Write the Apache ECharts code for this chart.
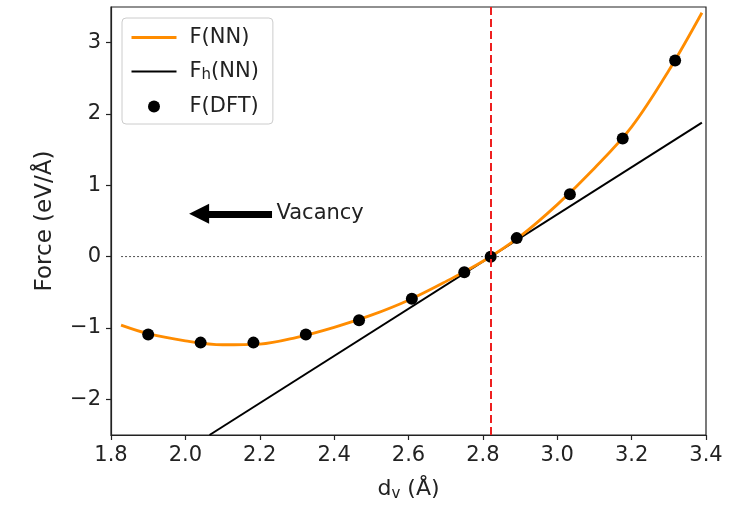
<!DOCTYPE html>
<html>
<head>
<meta charset="utf-8">
<script src="https://cdn.jsdelivr.net/npm/echarts@6/dist/echarts.min.js"></script>
<style>
  html, body { margin: 0; padding: 0; background: #fff; }
  #chart { width: 730px; height: 507px; }
</style>
</head>
<body>
<div id="chart"></div>
<script>
// DFT reference forces (eV/Å) against vacancy distance d_v (Å)
const dftX = [1.900, 2.041, 2.183, 2.324, 2.467, 2.609, 2.750, 2.821, 2.891, 3.034, 3.176, 3.317];
const dftY = [-1.09, -1.205, -1.205, -1.09, -0.89, -0.59, -0.22, 0.0, 0.26, 0.876, 1.657, 2.75];

// Neural-network force curve
const nnX = [1.827, 1.9, 2.0, 2.1, 2.2, 2.3, 2.4, 2.5, 2.6, 2.7, 2.8, 2.9, 3.0, 3.1, 3.2, 3.3, 3.389];
const nnY = [-0.96, -1.08, -1.18, -1.235, -1.225, -1.13, -0.99, -0.82, -0.61, -0.35, -0.065, 0.285, 0.73, 1.24, 1.82, 2.61, 3.42];

// Harmonic (linear) force about the equilibrium distance
const fhX = [2.065, 3.389];
const fhY = [-2.5, 1.88];

// Equilibrium distance and the zero-force reference span
const eqX = 2.821;
const zeroX = [1.827, 3.389];

// Axis ticks
const xTicks = [1.8, 2.0, 2.2, 2.4, 2.6, 2.8, 3.0, 3.2, 3.4];
const yTicks = [-2, -1, 0, 1, 2, 3];

const FONT = 'DejaVu Sans';
const pairs = (xs, ys) => xs.map((x, i) => [x, ys[i]]);

const chart = echarts.init(document.getElementById('chart'), null, { renderer: 'canvas' });

const option = {
  animation: false,
  backgroundColor: '#ffffff',
  textStyle: { fontFamily: FONT },
  grid: {
    left: 111, right: 24, top: 7, bottom: 71,
    show: true, borderColor: '#222', borderWidth: 1.2, backgroundColor: 'transparent'
  },
  legend: {
    orient: 'vertical',
    left: 122, top: 18,
    padding: [9, 14, 7, 8],
    itemGap: 13,
    itemWidth: 45, itemHeight: 12,
    backgroundColor: '#ffffff',
    borderColor: '#cccccc', borderWidth: 1, borderRadius: 4,
    data: [
      { name: 'F(NN)', itemStyle: { opacity: 0 }, lineStyle: { width: 3 } },
      { name: 'Fh(NN)', itemStyle: { opacity: 0 }, lineStyle: { width: 2 } },
      { name: 'F(DFT)' }
    ],
    textStyle: {
      fontFamily: FONT, fontSize: 21, color: '#222', padding: [0, 0, 0, 8],
      rich: {
        a: { fontFamily: FONT, fontSize: 21, color: '#222' },
        s: { fontFamily: FONT, fontSize: 15, color: '#222', verticalAlign: 'bottom', padding: [8, 0, 0, 0] }
      }
    },
    formatter: function (name) {
      if (name === 'Fh(NN)') return '{a|F}{s|h}{a|(NN)}';
      return '{a|' + name + '}';
    }
  },
  xAxis: {
    type: 'value',
    min: 1.8, max: 3.4, interval: 0.2,
    name: '{a|d}{s|v}{a| (Å)}',
    nameLocation: 'middle', nameGap: 42,
    nameTextStyle: {
      rich: {
        a: { fontFamily: FONT, fontSize: 22, color: '#222' },
        s: { fontFamily: FONT, fontSize: 15, color: '#222', verticalAlign: 'bottom', padding: [10, 0, 0, 0] }
      }
    },
    axisLine: { show: true, onZero: false, lineStyle: { color: '#222', width: 1.2 } },
    axisTick: { show: true, length: 5, lineStyle: { color: '#222', width: 1.2 } },
    axisLabel: {
      fontFamily: FONT, fontSize: 21, color: '#222', margin: 10,
      formatter: v => xTicks.find(t => Math.abs(t - v) < 1e-6).toFixed(1)
    },
    splitLine: { show: false }
  },
  yAxis: {
    type: 'value',
    min: -2.5, max: 3.5,
    name: 'Force (eV/Å)',
    nameLocation: 'middle', nameGap: 54,
    nameTextStyle: { fontFamily: FONT, fontSize: 23, color: '#222' },
    axisLine: { show: true, onZero: false, lineStyle: { color: '#222', width: 1.2 } },
    axisTick: {
      show: true, length: 5, lineStyle: { color: '#222', width: 1.2 },
      customValues: yTicks
    },
    axisLabel: {
      fontFamily: FONT, fontSize: 21, color: '#222', margin: 10,
      customValues: yTicks,
      formatter: v => (v < 0 ? '\u2212' + Math.abs(v) : String(v))
    },
    splitLine: { show: false }
  },
  series: [
    {
      name: 'Zero',
      type: 'line',
      data: pairs(zeroX, [0, 0]),
      symbol: 'none',
      silent: true,
      lineStyle: { color: '#222', width: 0.8, type: [2, 2] },
      z: 1
    },
    {
      name: 'F(NN)',
      type: 'line',
      data: pairs(nnX, nnY),
      smooth: 0.35,
      symbol: 'none',
      lineStyle: { color: '#ff8c00', width: 2.8 },
      itemStyle: { color: '#ff8c00' },
      z: 3
    },
    {
      name: 'Fh(NN)',
      type: 'line',
      data: pairs(fhX, fhY),
      symbol: 'none',
      lineStyle: { color: '#000', width: 2 },
      itemStyle: { color: '#000' },
      z: 2,
      markLine: {
        silent: true,
        symbol: ['none', 'triangle'],
        symbolSize: [20, 20],
        label: { show: false },
        lineStyle: { color: '#000', width: 7, type: 'solid' },
        data: [[{ coord: [2.233, 0.60] }, { coord: [2.037, 0.60] }]]
      }
    },
    {
      name: 'F(DFT)',
      type: 'scatter',
      data: pairs(dftX, dftY),
      symbol: 'circle',
      symbolSize: 12,
      itemStyle: { color: '#000', opacity: 1 },
      z: 4
    },
    {
      name: 'Equilibrium',
      type: 'line',
      data: [],
      silent: true,
      markLine: {
        silent: true,
        symbol: ['none', 'none'],
        label: { show: false },
        lineStyle: { color: '#ee2020', width: 2, type: [8, 4] },
        data: [{ xAxis: eqX }]
      }
    }
  ]
};

chart.setOption(option);

// "Vacancy" annotation beside the arrow
const p = chart.convertToPixel({ gridIndex: 0 }, [2.245, 0.60]);
chart.setOption({
  graphic: [{
    type: 'text',
    x: p[0], y: p[1],
    style: {
      text: 'Vacancy',
      fontFamily: FONT, fontSize: 21, fill: '#222',
      textAlign: 'left', textVerticalAlign: 'middle'
    }
  }]
});
</script>
</body>
</html>
